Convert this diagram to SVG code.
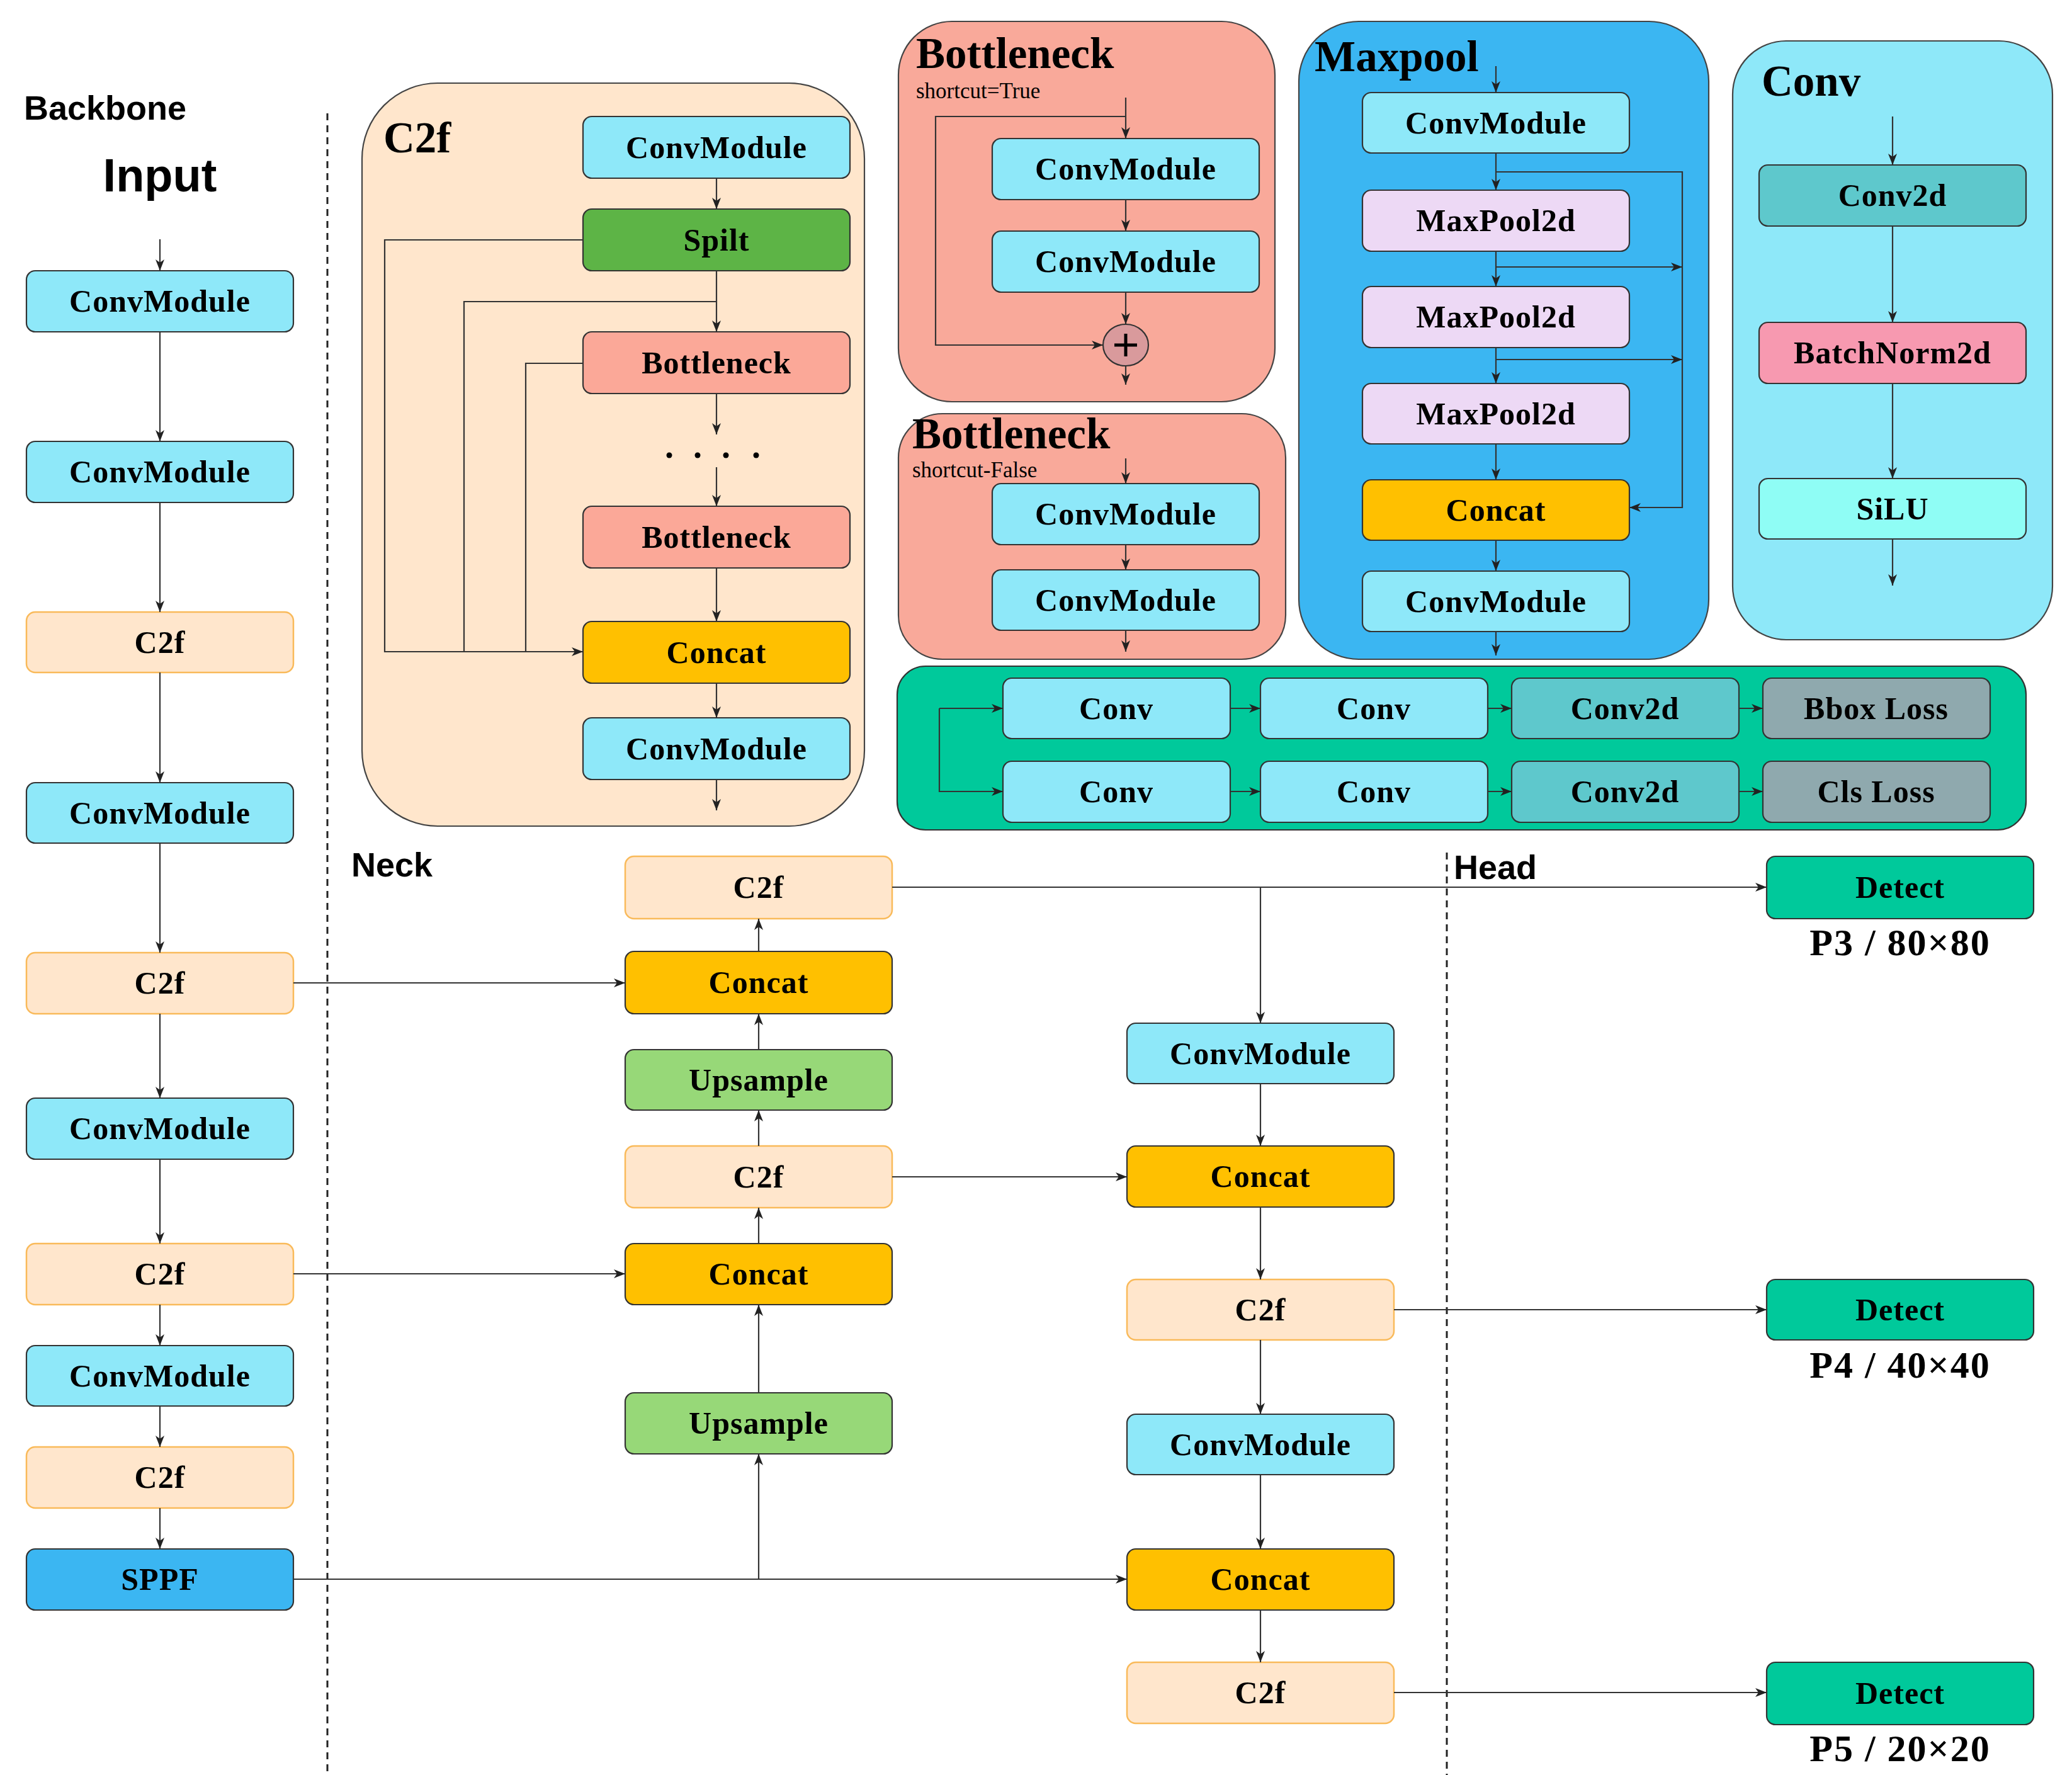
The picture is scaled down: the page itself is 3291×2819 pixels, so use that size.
<svg xmlns="http://www.w3.org/2000/svg" width="3291" height="2819" viewBox="0 0 3291 2819">
<defs>
<marker id="ah" markerUnits="userSpaceOnUse" markerWidth="22" markerHeight="16" refX="18" refY="7" orient="auto">
<path d="M0,0 L18,7 L0,14 L5,7 z" fill="#222"/>
</marker>
<style>
.bx{stroke:#333;stroke-width:2.2}
.cm{fill:#8EE8F9}
.c2f{fill:#FFE6CC;stroke:#F9BA5A;stroke-width:2.5}
.cc{fill:#FFC000}
.up{fill:#97D878}
.bn{fill:#FBA898}
.mp{fill:#EDD9F5}
.dt{fill:#00C99B}
.c2d{fill:#5EC8CC}
.ls{fill:#8FA9AE}
.t{font-family:"Liberation Serif","Times New Roman",serif;font-weight:bold;font-size:50px;text-anchor:middle;fill:#000;letter-spacing:1px}
.pl{font-family:"Liberation Serif","Times New Roman",serif;font-weight:bold;font-size:60px;text-anchor:middle;fill:#000;letter-spacing:2px}
.tt{font-family:"Liberation Serif","Times New Roman",serif;font-weight:bold;font-size:69px;fill:#000}
.st{font-family:"Liberation Serif","Times New Roman",serif;font-size:35px;fill:#000}
.sans{font-family:"Liberation Sans",Arial,sans-serif;font-weight:bold;fill:#000}
.ln{fill:none;stroke:#333;stroke-width:2.2}
.a{marker-end:url(#ah)}
.dash{fill:none;stroke:#222;stroke-width:3;stroke-dasharray:11 8}
</style>
</defs>
<rect width="3291" height="2819" fill="#fff"/>

<!-- section labels and dividers -->
<text class="sans" x="38" y="190" font-size="54">Backbone</text>
<text class="sans" x="254" y="304" font-size="74" text-anchor="middle">Input</text>
<text class="sans" x="558" y="1392" font-size="54">Neck</text>
<text class="sans" x="2309" y="1396" font-size="54">Head</text>
<line class="dash" x1="520" y1="180" x2="520" y2="2819"/>
<line class="dash" x1="2298" y1="1354" x2="2298" y2="2819"/>

<!-- C2f detail container -->
<g id="c2f-detail">
<rect x="575" y="132" width="798" height="1180" rx="120" fill="#FFE6CC" stroke="#444" stroke-width="2.2"/>
<text class="tt" x="609" y="242">C2f</text>
<g id="c2f-cm1"><rect class="bx cm" x="926" y="185" width="424" height="98" rx="14"/><text class="t" x="1138" y="251">ConvModule</text></g>
<g id="c2f-split"><rect class="bx" fill="#5DB446" x="926" y="332" width="424" height="98" rx="14"/><text class="t" x="1138" y="398">Spilt</text></g>
<g id="c2f-bn1"><rect class="bx bn" x="926" y="527" width="424" height="98" rx="14"/><text class="t" x="1138" y="593">Bottleneck</text></g>
<g id="c2f-dots"><circle cx="1063" cy="723" r="4.5" fill="#000"/><circle cx="1108" cy="723" r="4.5" fill="#000"/><circle cx="1153" cy="723" r="4.5" fill="#000"/><circle cx="1201" cy="723" r="4.5" fill="#000"/></g>
<g id="c2f-bn2"><rect class="bx bn" x="926" y="804" width="424" height="98" rx="14"/><text class="t" x="1138" y="870">Bottleneck</text></g>
<g id="c2f-concat"><rect class="bx cc" x="926" y="987" width="424" height="98" rx="14"/><text class="t" x="1138" y="1053">Concat</text></g>
<g id="c2f-cm2"><rect class="bx cm" x="926" y="1140" width="424" height="98" rx="14"/><text class="t" x="1138" y="1206">ConvModule</text></g>
</g>

<!-- Bottleneck shortcut=True -->
<g id="bn-true">
<rect x="1427" y="34" width="598" height="604" rx="85" fill="#F9A99A" stroke="#444" stroke-width="2.2"/>
<text class="tt" x="1455" y="108">Bottleneck</text>
<text class="st" x="1455" y="156">shortcut=True</text>
<g id="bnt-cm1"><rect class="bx cm" x="1576" y="220" width="424" height="97" rx="14"/><text class="t" x="1788" y="285">ConvModule</text></g>
<g id="bnt-cm2"><rect class="bx cm" x="1576" y="367" width="424" height="97" rx="14"/><text class="t" x="1788" y="432">ConvModule</text></g>
<g id="bnt-add"><ellipse cx="1788" cy="548" rx="36" ry="33" fill="#D99A9C" stroke="#333" stroke-width="2.2"/><path d="M1770,548 H1806 M1788,530 V566" stroke="#000" stroke-width="5"/></g>
</g>

<!-- Bottleneck shortcut-False -->
<g id="bn-false">
<rect x="1427" y="657" width="615" height="390" rx="70" fill="#F9A99A" stroke="#444" stroke-width="2.2"/>
<text class="tt" x="1449" y="712">Bottleneck</text>
<text class="st" x="1449" y="758">shortcut-False</text>
<g id="bnf-cm1"><rect class="bx cm" x="1576" y="768" width="424" height="97" rx="14"/><text class="t" x="1788" y="833">ConvModule</text></g>
<g id="bnf-cm2"><rect class="bx cm" x="1576" y="905" width="424" height="96" rx="14"/><text class="t" x="1788" y="970">ConvModule</text></g>
</g>

<!-- Maxpool -->
<g id="maxpool">
<rect x="2063" y="34" width="651" height="1013" rx="95" fill="#3BB6F2" stroke="#444" stroke-width="2.2"/>
<text class="tt" x="2088" y="113">Maxpool</text>
<g id="mp-cm1"><rect class="bx cm" x="2164" y="147" width="424" height="96" rx="14"/><text class="t" x="2376" y="212">ConvModule</text></g>
<g id="mp-p1"><rect class="bx mp" x="2164" y="302" width="424" height="97" rx="14"/><text class="t" x="2376" y="367">MaxPool2d</text></g>
<g id="mp-p2"><rect class="bx mp" x="2164" y="455" width="424" height="97" rx="14"/><text class="t" x="2376" y="520">MaxPool2d</text></g>
<g id="mp-p3"><rect class="bx mp" x="2164" y="609" width="424" height="96" rx="14"/><text class="t" x="2376" y="674">MaxPool2d</text></g>
<g id="mp-concat"><rect class="bx cc" x="2164" y="762" width="424" height="96" rx="14"/><text class="t" x="2376" y="827">Concat</text></g>
<g id="mp-cm2"><rect class="bx cm" x="2164" y="907" width="424" height="96" rx="14"/><text class="t" x="2376" y="972">ConvModule</text></g>
</g>

<!-- Conv -->
<g id="conv">
<rect x="2752" y="65" width="508" height="951" rx="85" fill="#8EE8F9" stroke="#444" stroke-width="2.2"/>
<text class="tt" x="2798" y="152">Conv</text>
<g id="conv-c2d"><rect class="bx c2d" x="2794" y="262" width="424" height="97" rx="14"/><text class="t" x="3006" y="327">Conv2d</text></g>
<g id="conv-bn"><rect class="bx" fill="#F799B0" x="2794" y="512" width="424" height="97" rx="14"/><text class="t" x="3006" y="577">BatchNorm2d</text></g>
<g id="conv-silu"><rect class="bx" fill="#8FFDF5" x="2794" y="760" width="424" height="96" rx="14"/><text class="t" x="3006" y="825">SiLU</text></g>
</g>

<!-- Head detail -->
<g id="head-detail">
<rect x="1425" y="1058" width="1793" height="260" rx="45" fill="#00C99B" stroke="#333" stroke-width="2.2"/>
<g id="hd-conv1"><rect class="bx cm" x="1593" y="1077" width="361" height="96" rx="14"/><text class="t" x="1773" y="1142">Conv</text></g>
<g id="hd-conv2"><rect class="bx cm" x="2002" y="1077" width="361" height="96" rx="14"/><text class="t" x="2182" y="1142">Conv</text></g>
<g id="hd-c2d1"><rect class="bx c2d" x="2401" y="1077" width="361" height="96" rx="14"/><text class="t" x="2581" y="1142">Conv2d</text></g>
<g id="hd-bbox"><rect class="bx ls" x="2800" y="1077" width="361" height="96" rx="14"/><text class="t" x="2980" y="1142">Bbox Loss</text></g>
<g id="hd-conv3"><rect class="bx cm" x="1593" y="1209" width="361" height="97" rx="14"/><text class="t" x="1773" y="1274">Conv</text></g>
<g id="hd-conv4"><rect class="bx cm" x="2002" y="1209" width="361" height="97" rx="14"/><text class="t" x="2182" y="1274">Conv</text></g>
<g id="hd-c2d2"><rect class="bx c2d" x="2401" y="1209" width="361" height="97" rx="14"/><text class="t" x="2581" y="1274">Conv2d</text></g>
<g id="hd-cls"><rect class="bx ls" x="2800" y="1209" width="361" height="97" rx="14"/><text class="t" x="2980" y="1274">Cls Loss</text></g>
</g>

<!-- Backbone nodes -->
<g id="bb-cm1"><rect class="bx cm" x="42" y="430" width="424" height="97" rx="14"/><text class="t" x="254" y="495">ConvModule</text></g>
<g id="bb-cm2"><rect class="bx cm" x="42" y="701" width="424" height="97" rx="14"/><text class="t" x="254" y="766">ConvModule</text></g>
<g id="bb-c2f1"><rect class="c2f" x="42" y="972" width="424" height="96" rx="14"/><text class="t" x="254" y="1037">C2f</text></g>
<g id="bb-cm3"><rect class="bx cm" x="42" y="1243" width="424" height="96" rx="14"/><text class="t" x="254" y="1308">ConvModule</text></g>
<g id="bb-c2f2"><rect class="c2f" x="42" y="1513" width="424" height="97" rx="14"/><text class="t" x="254" y="1578">C2f</text></g>
<g id="bb-cm4"><rect class="bx cm" x="42" y="1744" width="424" height="97" rx="14"/><text class="t" x="254" y="1809">ConvModule</text></g>
<g id="bb-c2f3"><rect class="c2f" x="42" y="1975" width="424" height="97" rx="14"/><text class="t" x="254" y="2040">C2f</text></g>
<g id="bb-cm5"><rect class="bx cm" x="42" y="2137" width="424" height="96" rx="14"/><text class="t" x="254" y="2202">ConvModule</text></g>
<g id="bb-c2f4"><rect class="c2f" x="42" y="2298" width="424" height="97" rx="14"/><text class="t" x="254" y="2363">C2f</text></g>
<g id="bb-sppf"><rect class="bx" fill="#3BB6F2" x="42" y="2460" width="424" height="97" rx="14"/><text class="t" x="254" y="2525">SPPF</text></g>

<!-- Neck nodes -->
<g id="nk-c2f1"><rect class="c2f" x="993" y="1360" width="424" height="99" rx="14"/><text class="t" x="1205" y="1426">C2f</text></g>
<g id="nk-concat1"><rect class="bx cc" x="993" y="1511" width="424" height="99" rx="14"/><text class="t" x="1205" y="1577">Concat</text></g>
<g id="nk-up1"><rect class="bx up" x="993" y="1667" width="424" height="96" rx="14"/><text class="t" x="1205" y="1732">Upsample</text></g>
<g id="nk-c2f2"><rect class="c2f" x="993" y="1820" width="424" height="98" rx="14"/><text class="t" x="1205" y="1886">C2f</text></g>
<g id="nk-concat2"><rect class="bx cc" x="993" y="1975" width="424" height="97" rx="14"/><text class="t" x="1205" y="2040">Concat</text></g>
<g id="nk-up2"><rect class="bx up" x="993" y="2212" width="424" height="97" rx="14"/><text class="t" x="1205" y="2277">Upsample</text></g>

<!-- Head column nodes -->
<g id="hc-cm1"><rect class="bx cm" x="1790" y="1625" width="424" height="96" rx="14"/><text class="t" x="2002" y="1690">ConvModule</text></g>
<g id="hc-concat1"><rect class="bx cc" x="1790" y="1820" width="424" height="97" rx="14"/><text class="t" x="2002" y="1885">Concat</text></g>
<g id="hc-c2f1"><rect class="c2f" x="1790" y="2032" width="424" height="96" rx="14"/><text class="t" x="2002" y="2097">C2f</text></g>
<g id="hc-cm2"><rect class="bx cm" x="1790" y="2246" width="424" height="96" rx="14"/><text class="t" x="2002" y="2311">ConvModule</text></g>
<g id="hc-concat2"><rect class="bx cc" x="1790" y="2460" width="424" height="97" rx="14"/><text class="t" x="2002" y="2525">Concat</text></g>
<g id="hc-c2f2"><rect class="c2f" x="1790" y="2640" width="424" height="97" rx="14"/><text class="t" x="2002" y="2705">C2f</text></g>

<!-- Detect nodes -->
<g id="det-p3"><rect class="bx dt" x="2806" y="1360" width="424" height="99" rx="14"/><text class="t" x="3018" y="1426">Detect</text><text class="pl" x="3018" y="1517">P3 / 80×80</text></g>
<g id="det-p4"><rect class="bx dt" x="2806" y="2032" width="424" height="96" rx="14"/><text class="t" x="3018" y="2097">Detect</text><text class="pl" x="3018" y="2188">P4 / 40×40</text></g>
<g id="det-p5"><rect class="bx dt" x="2806" y="2640" width="424" height="99" rx="14"/><text class="t" x="3018" y="2706">Detect</text><text class="pl" x="3018" y="2797">P5 / 20×20</text></g>

<!-- connectors -->
<g id="connectors">
<path class="ln a" d="M254,380 V430"/>
<path class="ln a" d="M254,527 V701"/>
<path class="ln a" d="M254,798 V972"/>
<path class="ln a" d="M254,1068 V1243"/>
<path class="ln a" d="M254,1339 V1513"/>
<path class="ln a" d="M254,1610 V1744"/>
<path class="ln a" d="M254,1841 V1975"/>
<path class="ln a" d="M254,2072 V2137"/>
<path class="ln a" d="M254,2233 V2298"/>
<path class="ln a" d="M254,2395 V2460"/>
<path class="ln a" d="M466,1561 H993"/>
<path class="ln a" d="M466,2023 H993"/>
<path class="ln a" d="M466,2508 H1790"/>
<path class="ln a" d="M1205,2508 V2309"/>
<path class="ln a" d="M1205,2212 V2072"/>
<path class="ln a" d="M1205,1975 V1918"/>
<path class="ln a" d="M1205,1820 V1763"/>
<path class="ln a" d="M1205,1667 V1610"/>
<path class="ln a" d="M1205,1511 V1459"/>
<path class="ln a" d="M1417,1409 H2806"/>
<path class="ln a" d="M2002,1409 V1625"/>
<path class="ln a" d="M1417,1869 H1790"/>
<path class="ln a" d="M2002,1721 V1820"/>
<path class="ln a" d="M2002,1917 V2032"/>
<path class="ln a" d="M2002,2128 V2246"/>
<path class="ln a" d="M2002,2342 V2460"/>
<path class="ln a" d="M2002,2557 V2640"/>
<path class="ln a" d="M2214,2080 H2806"/>
<path class="ln a" d="M2214,2688 H2806"/>
<path class="ln a" d="M1138,283 V332"/>
<path class="ln a" d="M1138,430 V527"/>
<path class="ln a" d="M1138,625 V690"/>
<path class="ln a" d="M1138,742 V804"/>
<path class="ln a" d="M1138,902 V987"/>
<path class="ln a" d="M1138,1085 V1140"/>
<path class="ln a" d="M1138,1238 V1287"/>
<path class="ln a" d="M926,381 H611 V1035 H926"/>
<path class="ln" d="M1138,479 H737 V1035"/>
<path class="ln" d="M926,577 H835 V1035"/>
<path class="ln a" d="M1788,155 V220"/>
<path class="ln a" d="M1788,317 V367"/>
<path class="ln a" d="M1788,464 V515"/>
<path class="ln a" d="M1788,581 V611"/>
<path class="ln a" d="M1788,185 H1486 V548 H1752"/>
<path class="ln a" d="M1788,728 V768"/>
<path class="ln a" d="M1788,865 V905"/>
<path class="ln a" d="M1788,1001 V1035"/>
<path class="ln a" d="M2376,105 V147"/>
<path class="ln a" d="M2376,243 V302"/>
<path class="ln a" d="M2376,399 V455"/>
<path class="ln a" d="M2376,552 V609"/>
<path class="ln a" d="M2376,705 V762"/>
<path class="ln a" d="M2376,858 V907"/>
<path class="ln a" d="M2376,1003 V1041"/>
<path class="ln a" d="M2376,273 H2672 V806 H2588"/>
<path class="ln a" d="M2376,424 H2672"/>
<path class="ln a" d="M2376,571 H2672"/>
<path class="ln a" d="M3006,185 V262"/>
<path class="ln a" d="M3006,359 V512"/>
<path class="ln a" d="M3006,609 V760"/>
<path class="ln a" d="M3006,856 V930"/>
<path class="ln a" d="M1492,1125 H1593"/>
<path class="ln a" d="M1492,1125 V1257 H1593"/>
<path class="ln a" d="M1954,1125 H2002"/>
<path class="ln a" d="M2363,1125 H2401"/>
<path class="ln a" d="M2762,1125 H2800"/>
<path class="ln a" d="M1954,1257 H2002"/>
<path class="ln a" d="M2363,1257 H2401"/>
<path class="ln a" d="M2762,1257 H2800"/>
</g>
</svg>
